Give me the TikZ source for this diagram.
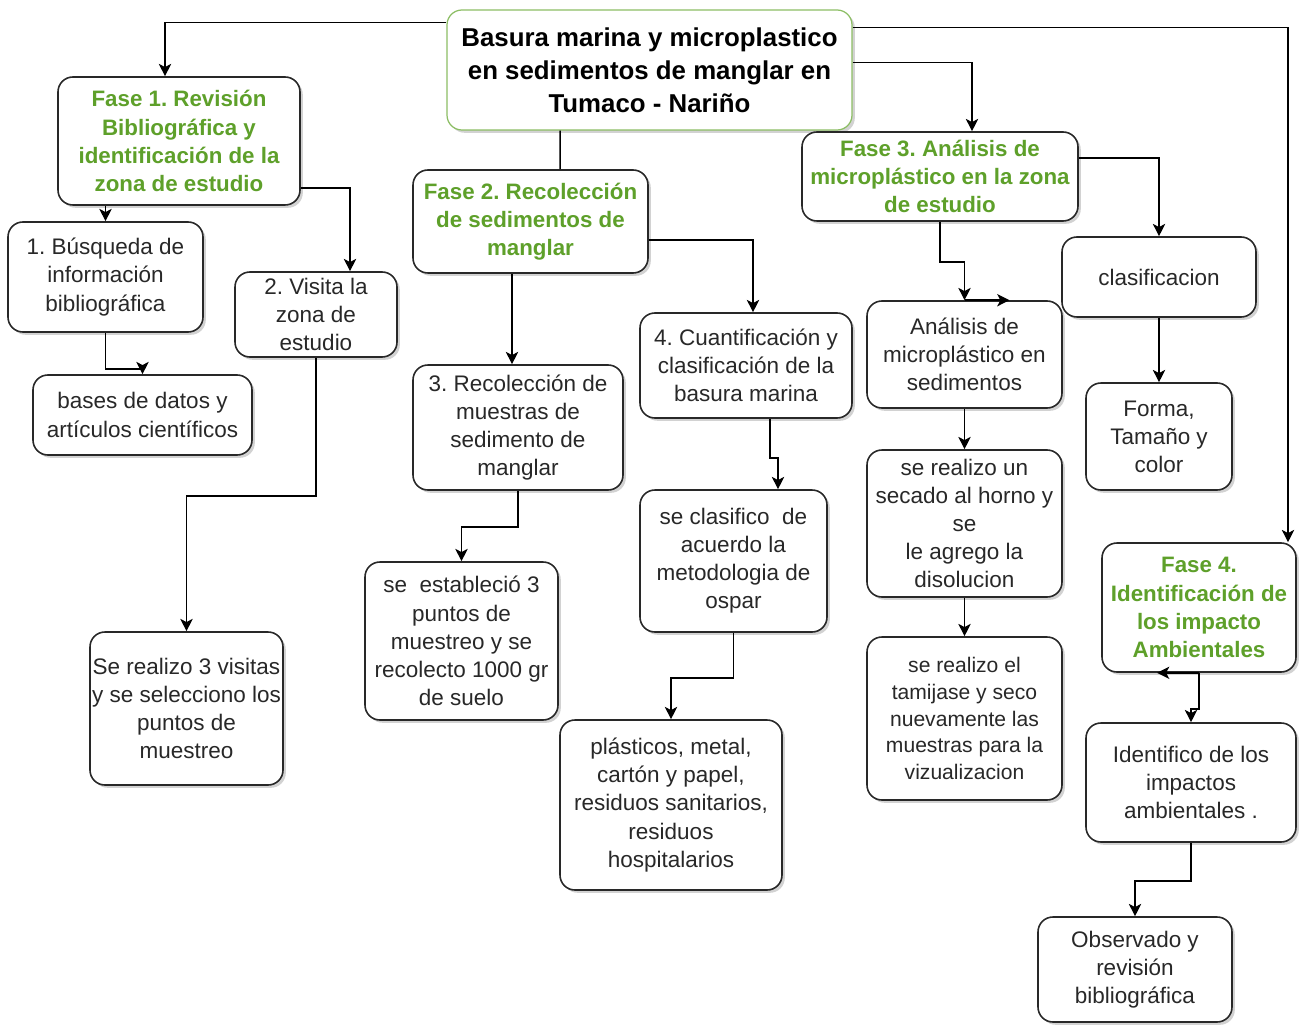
\documentclass[tikz,border=0pt]{standalone}
\usepackage{fontspec}
\setmainfont{Liberation Sans}
\usetikzlibrary{arrows.meta,positioning,shadows}
\definecolor{faseGreen}{RGB}{94,160,42}
\definecolor{titleGreen}{RGB}{140,190,100}
\definecolor{boxGray}{RGB}{40,40,40}
\definecolor{txtGray}{RGB}{40,40,40}

\tikzset{
  box/.style={draw=boxGray, line width=0.9pt, rounded corners=8.5pt, fill=white,
    align=center, inner sep=1pt, text=txtGray,
    font=\fontsize{12.8}{16}\selectfont,
    drop shadow={shadow xshift=1.6pt, shadow yshift=-1.6pt, opacity=0.35}},
  fasebox/.style={box, text=faseGreen, font=\fontsize{12.7}{16}\selectfont\bfseries},
  titlebox/.style={box, draw=titleGreen, line width=0.7pt, text=black,
    font=\fontsize{14.7}{18.7}\selectfont\bfseries},
  link/.style={draw=black, line width=0.85pt},
  arr/.style={link, -{Stealth[length=7pt,width=7pt,inset=1.8pt]}}
}

\begin{document}
\frenchspacing
\begin{tikzpicture}
\useasboundingbox[fill=white] (0,0) rectangle (26.06,-20.5);

% title and phases
\node[titlebox, minimum width=8.1cm, minimum height=2.4cm] (title) at (12.99,-1.40)
  {Basura marina y microplastico\\en sedimentos de manglar en\\Tumaco - Nariño};
\node[fasebox, minimum width=4.84cm, minimum height=2.56cm] (f1) at (3.58,-2.82)
  {Fase 1. Revisión\\Bibliográfica y\\identificación de la\\zona de estudio};
\node[fasebox, minimum width=4.7cm, minimum height=2.06cm] (f2) at (10.61,-4.43)
  {Fase 2. Recolección\\de sedimentos de\\manglar};
\node[fasebox, minimum width=5.52cm, minimum height=1.78cm] (f3) at (18.80,-3.53)
  {Fase 3. Análisis de\\microplástico en la zona\\de estudio};
\node[fasebox, minimum width=3.88cm, minimum height=2.58cm] (f4) at (23.98,-12.15)
  {Fase 4.\\Identificación de\\los impacto\\Ambientales};

% fase 1
\node[box, minimum width=3.9cm, minimum height=2.2cm] (busq) at (2.11,-5.54)
  {1. Búsqueda de\\información\\bibliográfica};
\node[box, minimum width=3.24cm, minimum height=1.7cm] (visita) at (6.32,-6.29)
  {2. Visita la\\zona de\\estudio};
\node[box, minimum width=4.38cm, minimum height=1.6cm] (bases) at (2.85,-8.30)
  {bases de datos y\\artículos científicos};
\node[box, minimum width=3.86cm, minimum height=3.06cm] (visitas) at (3.73,-14.17)
  {Se realizo 3 visitas\\y se selecciono los\\puntos de\\muestreo};

% fase 2
\node[box, minimum width=4.2cm, minimum height=2.5cm] (recol) at (10.36,-8.55)
  {3. Recolección de\\muestras de\\sedimento de\\manglar};
\node[box, minimum width=3.86cm, minimum height=3.16cm] (estab) at (9.23,-12.82)
  {se~ estableció 3\\puntos de\\muestreo y se\\recolecto 1000 gr\\de suelo};
\node[box, minimum width=4.24cm, minimum height=2.1cm] (cuant) at (14.92,-7.31)
  {4. Cuantificación y\\clasificación de la\\basura marina};
\node[box, minimum width=3.74cm, minimum height=2.84cm] (clasif) at (14.67,-11.22)
  {se clasifico~ de\\acuerdo la\\metodologia de\\ospar};
\node[box, minimum width=4.44cm, minimum height=3.4cm] (plast) at (13.42,-16.10)
  {plásticos, metal,\\cartón y papel,\\residuos sanitarios,\\residuos\\hospitalarios};

% fase 3
\node[box, minimum width=3.9cm, minimum height=2.14cm] (analisis) at (19.29,-7.09)
  {Análisis de\\microplástico en\\sedimentos};
\node[box, minimum width=3.88cm, minimum height=1.6cm] (clasific) at (23.18,-5.54)
  {clasificacion};
\node[box, minimum width=2.92cm, minimum height=2.14cm] (forma) at (23.18,-8.73)
  {Forma,\\Tamaño y\\color};
\node[box, minimum width=3.9cm, minimum height=2.94cm] (secado) at (19.29,-10.47)
  {se realizo un\\secado al horno y\\se\\le agrego la\\disolucion};
\node[box, minimum width=3.9cm, minimum height=3.26cm, font=\fontsize{12}{15.3}\selectfont] (tamiz) at (19.29,-14.37)
  {se realizo el\\tamijase y seco\\nuevamente las\\muestras para la\\vizualizacion};

% fase 4
\node[box, minimum width=4.2cm, minimum height=2.38cm] (identif) at (23.82,-15.65)
  {Identifico de los\\impactos\\ambientales .};
\node[box, minimum width=3.88cm, minimum height=2.1cm] (observ) at (22.70,-19.39)
  {Observado y\\revisión\\bibliográfica};

% connectors from the title
\draw[arr] ([yshift=-0.26cm]title.north west) -| ([xshift=-0.28cm]f1.north);
\draw[arr] ([yshift=-0.36cm]title.north east) -| ([xshift=1.78cm]f4.north);
\draw[arr] ([yshift=-1.06cm]title.north east) -| ([xshift=0.64cm]f3.north);
\draw[link] ([xshift=-1.79cm]title.south) -- ([xshift=0.59cm]f2.north);

% fase 1 links
\draw[arr] (busq.north |- f1.south) -- (busq.north);
\draw[arr] ([yshift=-0.94cm]f1.east) -| ([xshift=0.68cm]visita.north);
\draw[arr] (busq.south) -- ++(0,-0.72) -| (bases.north);
\draw[arr] (visita.south) -- ++(0,-2.76) -| (visitas.north);

% fase 2 links
\draw[arr] ([xshift=-0.37cm]f2.south) -- ([xshift=-0.12cm]recol.north);
\draw[arr] ([yshift=-0.37cm]f2.east) -| ([xshift=0.14cm]cuant.north);
\draw[arr] (recol.south) -- ++(0,-0.72) -| (estab.north);
\draw[arr] ([xshift=0.48cm]cuant.south) -- ++(0,-0.78) -| ([xshift=0.89cm]clasif.north);
\draw[arr] (clasif.south) -- ++(0,-0.9) -| (plast.north);

% fase 3 links
\draw[arr] (f3.south) -- ++(0,-0.8) -| (analisis.north);
\draw[arr] (analisis.north) -- ++(0.9,0);
\draw[arr] ([yshift=0.37cm]f3.east) -| (clasific.north);
\draw[arr] (clasific.south) -- (forma.north);
\draw[arr] (analisis.south) -- (secado.north);
\draw[arr] (secado.south) -- (tamiz.north);

% fase 4 links
\draw[arr] (f4.south) -- ++(0,-0.72) -| (identif.north);
\draw[arr] (f4.south) -- ++(-0.84,0);
\draw[arr] (identif.south) -- ++(0,-0.76) -| (observ.north);
\end{tikzpicture}
\end{document}
